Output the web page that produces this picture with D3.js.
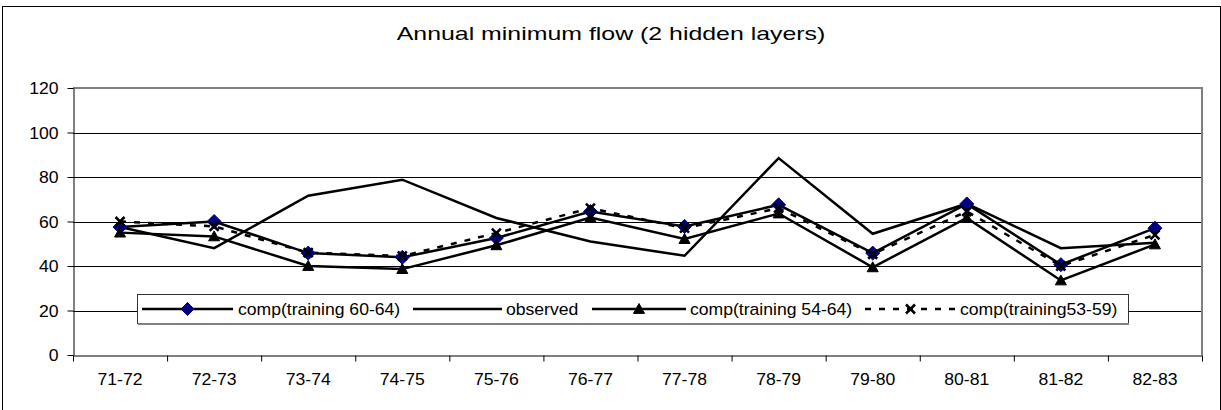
<!DOCTYPE html>
<html>
<head>
<meta charset="utf-8">
<script src="https://cdn.jsdelivr.net/npm/d3@7"></script>
<style>
  html, body { margin: 0; padding: 0; background: #fff; }
  svg { display: block; }
  text { font-family: "Liberation Sans", Arial, sans-serif; fill: #000; }
</style>
</head>
<body>
<svg id="chart" width="1221" height="410"></svg>
<script>
// ---- data ----
const categories = ["71-72","72-73","73-74","74-75","75-76","76-77","77-78","78-79","79-80","80-81","81-82","82-83"];
const comp6064 = [57.5, 60, 45.8, 43.9, 52.6, 64.5, 57.8, 67.5, 45.8, 67.9, 40.6, 57];
const observed = [57.5, 48, 71.6, 78.8, 61.6, 51, 44.6, 88.5, 54.5, 68, 48, 50.5];
const comp5464 = [55, 53.3, 40, 38.6, 49.3, 61.8, 52.1, 63.6, 39.4, 61.6, 33.5, 49.7];
const comp5359 = [60, 57.8, 46, 44.5, 54.8, 66, 57, 66, 45.3, 64.5, 40, 54];
const yTicks = [0, 20, 40, 60, 80, 100, 120];
const seriesNames = ["comp(training 60-64)", "observed", "comp(training 54-64)", "comp(training53-59)"];
const titleText = "Annual minimum flow (2 hidden layers)";

// ---- layout ----
const plot = {left: 73, right: 1202, top: 88, bottom: 355};
const svg = d3.select("#chart");
const FONT = "Liberation Sans, Arial, sans-serif";
const SX = 1.1; // horizontal text stretch of the original

const x = d3.scaleBand().domain(categories).range([plot.left, plot.right]);
const xc = c => x(c) + x.bandwidth() / 2;
const y = d3.scaleLinear().domain([0, 120]).range([plot.bottom, plot.top]);

// outer border
svg.append("rect").attr("x", 2.5).attr("y", 6.5).attr("width", 1218).attr("height", 410)
  .attr("fill", "#fff").attr("stroke", "#000").attr("stroke-width", 1);

// title
svg.append("text")
  .attr("transform", "translate(611,40) scale(1.31,1)")
  .attr("text-anchor", "middle").attr("font-size", 19).text(titleText);

// gridlines
svg.append("g").selectAll("line").data(yTicks.filter(t => t > 0 && t < 120)).join("line")
  .attr("x1", plot.left).attr("x2", plot.right)
  .attr("y1", d => Math.round(y(d)) + 0.5).attr("y2", d => Math.round(y(d)) + 0.5)
  .attr("stroke", "#000").attr("stroke-width", 1);

// plot border top & right (gray)
svg.append("path")
  .attr("d", `M${plot.left},${y(120)}H${plot.right}V${plot.bottom}`)
  .attr("fill", "none").attr("stroke", "#808080").attr("stroke-width", 2);

// y axis
const yAxis = svg.append("g").attr("transform", `translate(${plot.left + 0.5},0)`)
  .call(d3.axisLeft(y).tickValues(yTicks).tickSize(6).tickSizeOuter(0));
yAxis.select(".domain").attr("stroke", "#000");
yAxis.selectAll(".tick line").attr("stroke", "#000");
yAxis.selectAll(".tick text")
  .attr("x", null).attr("dy", "0.36em")
  .attr("transform", `translate(-15,0) scale(${SX},1)`)
  .attr("font-size", 16).attr("font-family", FONT).attr("fill", "#000");

// x axis labels
const xAxis = svg.append("g").attr("transform", `translate(0,${plot.bottom})`)
  .call(d3.axisBottom(x).tickSize(0));
xAxis.select(".domain").remove();
xAxis.selectAll(".tick text")
  .attr("y", null).attr("dy", null)
  .attr("transform", `translate(0,30) scale(${SX},1)`)
  .attr("font-size", 16).attr("font-family", FONT).attr("fill", "#000");

// x axis boundary ticks
const xb = d3.scaleLinear().domain([0, categories.length]).range([plot.left, plot.right]);
const xAxis2 = svg.append("g").attr("transform", `translate(0,${plot.bottom + 0.5})`)
  .call(d3.axisBottom(xb).ticks(categories.length).tickFormat("").tickSize(6).tickSizeOuter(0));
xAxis2.select(".domain").attr("stroke", "#000");
xAxis2.selectAll(".tick line").attr("stroke", "#000");

// ---- series ----
const line = d3.line().x((d, i) => xc(categories[i])).y(d => y(d));

function diamond(g, cx, cy, r) {
  g.append("path").attr("d", `M${cx},${cy - r}L${cx + r},${cy}L${cx},${cy + r}L${cx - r},${cy}Z`)
    .attr("fill", "#000080").attr("stroke", "#000080").attr("stroke-width", 1);
}
function triangle(g, cx, cy, r) {
  g.append("path").attr("d", `M${cx},${cy - r}L${cx + r},${cy + r * 0.8}L${cx - r},${cy + r * 0.8}Z`)
    .attr("fill", "#000").attr("stroke", "#000").attr("stroke-width", 1);
}
function cross(g, cx, cy, r) {
  g.append("path").attr("d", `M${cx - r},${cy - r}L${cx + r},${cy + r}M${cx + r},${cy - r}L${cx - r},${cy + r}`)
    .attr("fill", "none").attr("stroke", "#000").attr("stroke-width", 2.6);
}

const gS = svg.append("g");
gS.append("path").datum(comp6064).attr("d", line).attr("fill", "none").attr("stroke", "#000").attr("stroke-width", 2.5);
gS.append("path").datum(observed).attr("d", line).attr("fill", "none").attr("stroke", "#000").attr("stroke-width", 2.5);
gS.append("path").datum(comp5464).attr("d", line).attr("fill", "none").attr("stroke", "#000").attr("stroke-width", 2.5);
gS.append("path").datum(comp5359).attr("d", line).attr("fill", "none").attr("stroke", "#000").attr("stroke-width", 2.5)
  .attr("stroke-dasharray", "6,8");

const gM = svg.append("g");
comp6064.forEach((v, i) => diamond(gM, xc(categories[i]), y(v), 7));
comp5464.forEach((v, i) => triangle(gM, xc(categories[i]), y(v), 5.5));
comp5359.forEach((v, i) => cross(gM, xc(categories[i]), y(v), 4.5));

// ---- legend ----
const lg = svg.append("g");
lg.append("rect").attr("x", 137.5).attr("y", 294.5).attr("width", 991).attr("height", 29)
  .attr("fill", "#fff").attr("stroke", "#333").attr("stroke-width", 1);
lg.append("line").attr("x1", 138).attr("x2", 1129).attr("y1", 324).attr("y2", 324)
  .attr("stroke", "#808080").attr("stroke-width", 2);
const ly = 309;
const items = [
  {x0: 142, x1: 233, text: 238, marker: "diamond", dash: null},
  {x0: 413, x1: 502, text: 506, marker: null, dash: null},
  {x0: 592, x1: 686, text: 690, marker: "triangle", dash: null},
  {x0: 865, x1: 956, text: 960, marker: "cross", dash: "6,8"}
];
items.forEach((it, k) => {
  const l = lg.append("line").attr("x1", it.x0).attr("x2", it.x1).attr("y1", ly).attr("y2", ly)
    .attr("stroke", "#000").attr("stroke-width", 2.5);
  if (it.dash) l.attr("stroke-dasharray", it.dash);
  const mx = (it.x0 + it.x1) / 2;
  if (it.marker === "diamond") diamond(lg, mx, ly, 6.5);
  if (it.marker === "triangle") triangle(lg, mx, ly, 5.5);
  if (it.marker === "cross") cross(lg, mx, ly, 4.5);
  lg.append("text").attr("transform", `translate(${it.text},${ly + 6}) scale(${SX},1)`)
    .attr("font-size", 16).text(seriesNames[k]);
});
</script>
</body>
</html>
